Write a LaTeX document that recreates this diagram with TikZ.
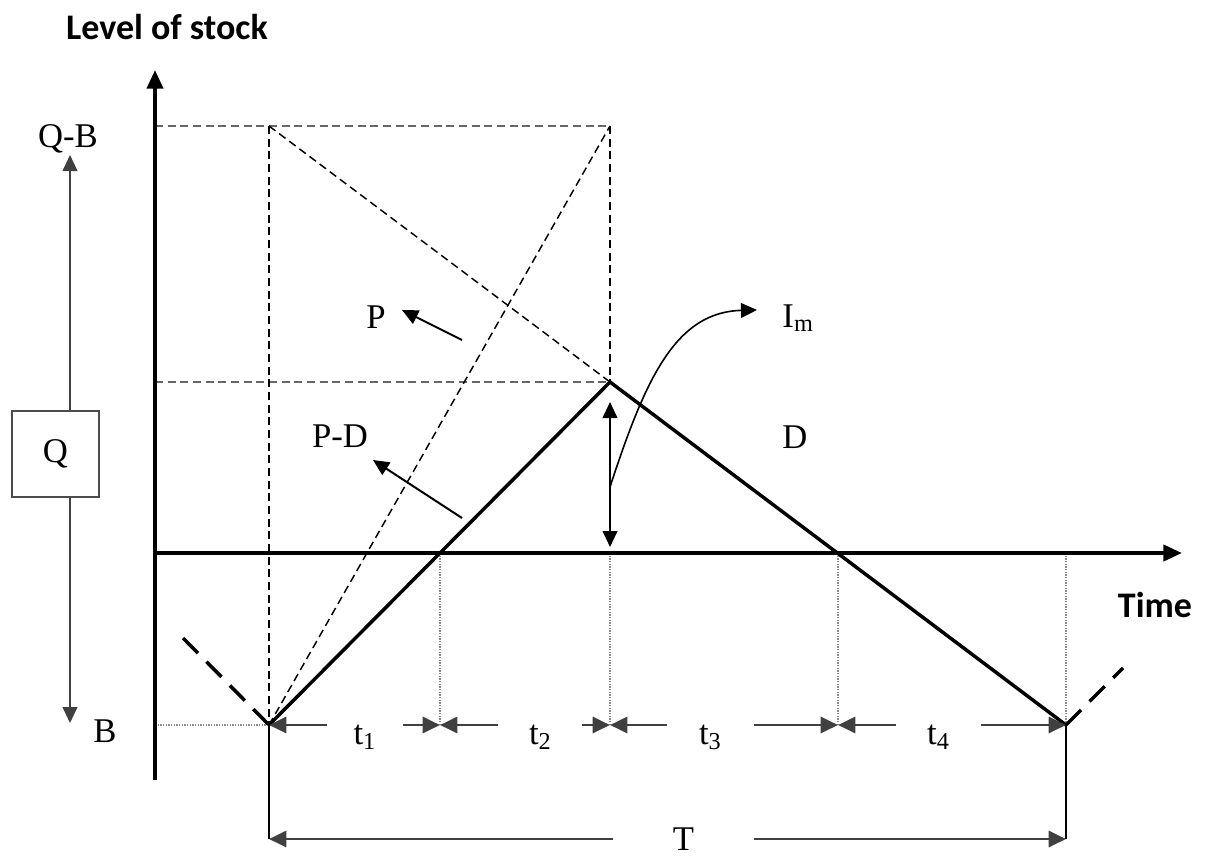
\documentclass[tikz,border=0pt]{standalone}
\usepackage{fontspec}
\setmainfont{Liberation Serif}
\newfontfamily\axisfont{Carlito}
\usetikzlibrary{arrows.meta}

\begin{document}
\begin{tikzpicture}[x=0.75pt,y=-0.75pt]
    \tikzset{axis/.style = {line width=3pt,-{Triangle[length=14pt,width=12pt]}}}
    \tikzset{stock/.style = {line width=2.6pt,line join=miter}}
    \tikzset{guide/.style = {line width=1.1pt,dash pattern=on 6pt off 3.5pt}}
    \tikzset{guide2/.style = {black!60,line width=1.6pt,dash pattern=on 6pt off 3.5pt}}
    \tikzset{tick/.style = {black!45,line width=0.9pt,dash pattern=on 1pt off 1pt}}
    \tikzset{ext/.style = {line width=2.6pt,dash pattern=on 16pt off 9pt}}
    \tikzset{edge/.style = {line width=1.5pt,> = {Triangle[length=12pt,width=11pt]}}}
    \tikzset{dim/.style = {black!75,line width=2.2pt,<->,> = {Triangle[length=13pt,width=12pt]}}}
    \tikzset{gap/.style = {fill=white,inner sep=0pt,minimum height=30pt,yshift=-9pt,text=black,font=\fontsize{26}{28}\selectfont}}
    \tikzset{lbl/.style = {inner sep=0pt,anchor=base,font=\fontsize{26}{28}\selectfont}}
    \tikzset{title/.style = {inner sep=0pt,anchor=base,font=\axisfont\bfseries\fontsize{27}{30}\selectfont}}

    \useasboundingbox (0,0) rectangle (1205,856);

    % vertices
    \coordinate (origin) at (155,553);
    \coordinate (ytop) at (155,70);
    \coordinate (ybot) at (155,780);
    \coordinate (xend) at (1182,553);

    \coordinate (start) at (269,725);
    \coordinate (cross1) at (440,553);
    \coordinate (peak) at (610,382);
    \coordinate (cross2) at (838,553);
    \coordinate (finish) at (1066,725);

    \coordinate (qbleft) at (155,126);
    \coordinate (qbmid) at (269,126);
    \coordinate (qbright) at (610,126);
    \coordinate (pkleft) at (155,382);
    \coordinate (bleft) at (155,725);

    \coordinate (b1) at (440,725);
    \coordinate (b2) at (610,725);
    \coordinate (b3) at (838,725);
    \coordinate (tleft) at (269,839);
    \coordinate (tright) at (1066,839);

    \coordinate (extl) at (183,638);
    \coordinate (extr) at (1123,668);

    \coordinate (imtop) at (610,402);
    \coordinate (imbot) at (610,547);
    \coordinate (imfoot) at (610,487);
    \coordinate (imtip) at (757,310);

    \coordinate (ptail) at (462,340);
    \coordinate (ptip) at (402,310);
    \coordinate (pdtail) at (462,518);
    \coordinate (pdtip) at (373,460);

    \coordinate (qbtip) at (70,155);
    \coordinate (btip) at (70,723);

    \node[title] (level) at (167,40) {Level of stock};
    \node[title] (time) at (1155,617) {Time};
    \node[lbl] (qb) at (68,147) {Q-B};
    \node[lbl] (bl) at (105,742) {B};
    \node[lbl] (p) at (376,328) {P};
    \node[lbl] (pd) at (340,447) {P-D};
    \node[lbl] (d) at (795,448) {D};
    \node[lbl] (im) at (798,327) {I\textsubscript{m}};

    %edges
    \draw[guide2] (qbleft) to (qbright);
    \draw[guide2] (pkleft) to (peak);
    \draw[guide] (qbmid) to (start);
    \draw[guide] (qbright) to (peak);
    \draw[guide] (start) to (qbright);
    \draw[guide] (qbmid) to (peak);

    \draw[tick] (bleft) to (start);
    \draw[tick] (cross1) to (b1);
    \draw[tick] (610,553) to (b2);
    \draw[tick] (cross2) to (b3);
    \draw[tick] (1066,553) to (finish);

    \draw[axis] (ybot) to (ytop);
    \draw[axis] (origin) to (xend);

    \draw[stock] (start) -- (peak) -- (finish);
    \draw[ext] (extl) to (start);
    \draw[ext] (finish) to (extr);

    \draw[line width=1.3pt] (start) to (tleft);
    \draw[line width=1.3pt] (finish) to (tright);

    \draw[dim] (start) to node[gap,pos=0.56,minimum width=57pt] {t\textsubscript{1}} (b1);
    \draw[dim] (b1) to node[gap,pos=0.59,minimum width=63pt] {t\textsubscript{2}} (b2);
    \draw[dim] (b2) to node[gap,pos=0.44,minimum width=65pt] {t\textsubscript{3}} (b3);
    \draw[dim] (b3) to node[gap,pos=0.44,minimum width=64pt] {t\textsubscript{4}} (finish);
    \draw[dim] (tleft) to node[gap,pos=0.52,minimum width=106pt,minimum height=10pt,yshift=9pt] {T} (tright);

    \draw[edge,<->] (imtop) to (imbot);
    \draw[edge,->,line width=1.2pt] (imfoot) .. controls (645,380) and (675,312) .. (imtip);
    \draw[edge,->] (ptail) to (ptip);
    \draw[edge,->] (pdtail) to (pdtip);

    \draw[edge,<->,black!75] (qbtip) to (btip);
    \node[draw=black!70,line width=1.5pt,fill=white,minimum width=65pt,minimum height=64.5pt,font=\fontsize{26}{28}\selectfont] (qbox) at (55.5,454) {Q};
\end{tikzpicture}
\end{document}
